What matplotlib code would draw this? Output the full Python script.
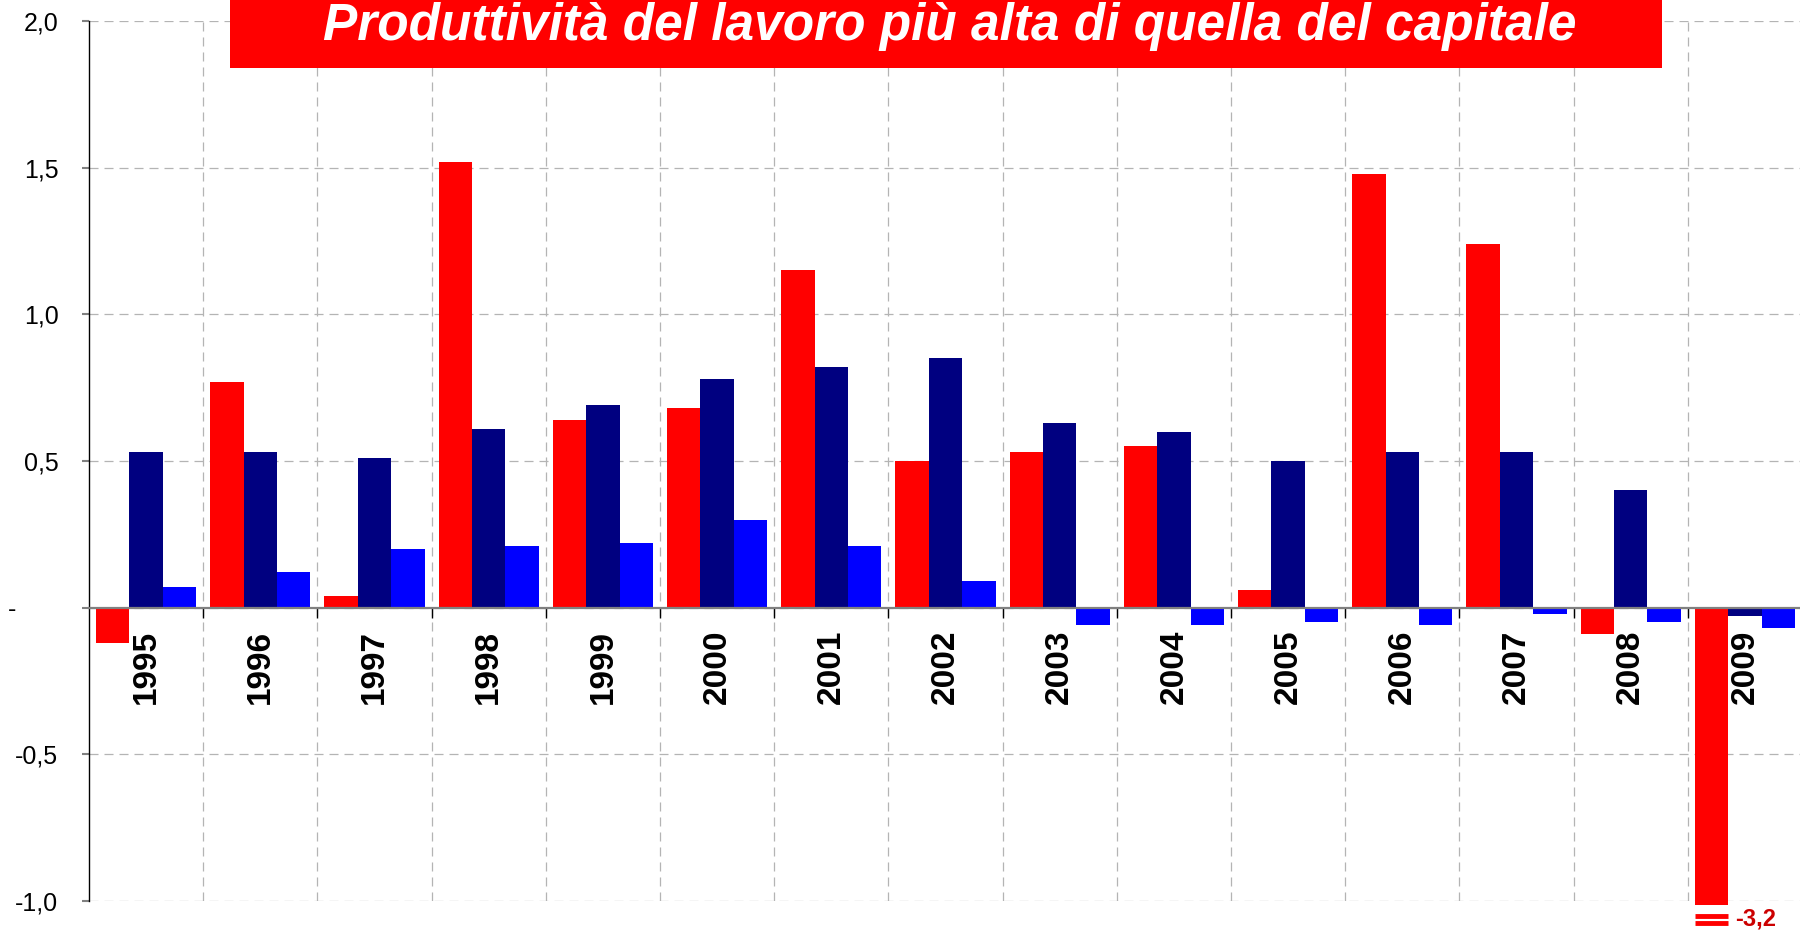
import numpy as np
import matplotlib
matplotlib.use("Agg")
import matplotlib.pyplot as plt
from matplotlib.patches import Rectangle

plt.rcParams['font.family'] = ['Liberation Sans', 'DejaVu Sans']
plt.rcParams['lines.scale_dashes'] = False

# dati
anni = ['1995', '1996', '1997', '1998', '1999', '2000', '2001', '2002',
        '2003', '2004', '2005', '2006', '2007', '2008', '2009']
rosso = [-0.12, 0.77, 0.04, 1.52, 0.64, 0.68, 1.15, 0.50,
         0.53, 0.55, 0.06, 1.48, 1.24, -0.09, -3.2]
blu_scuro = [0.53, 0.53, 0.51, 0.61, 0.69, 0.78, 0.82, 0.85,
             0.63, 0.60, 0.50, 0.53, 0.53, 0.40, -0.03]
blu = [0.07, 0.12, 0.20, 0.21, 0.22, 0.30, 0.21, 0.09,
       -0.06, -0.06, -0.05, -0.06, -0.02, -0.05, -0.07]
y_ticks = [-1.0, -0.5, 0.0, 0.5, 1.0, 1.5, 2.0]
y_labels = ['-1,0', '-0,5', '-      ', '0,5', '1,0', '1,5', '2,0']
titolo = 'Produttività del lavoro più alta di quella del capitale'

ymin, ymax = -1.0, 2.0

fig = plt.figure(figsize=(18, 9.3), dpi=100)
ax = fig.add_axes([89/1800, 1-901/930, (1802-89)/1800, (901-21)/930])

x = np.arange(len(anni))
w = 0.292
# barre tagliate appena sotto il minimo dell'asse
rosso_vis = [max(v, ymin - 0.015) for v in rosso]
b_rosso = ax.bar(x - w, rosso_vis, w, color='#FF0000', zorder=3, clip_on=False)
ax.bar(x, blu_scuro, w, color='#000080', zorder=3)
ax.bar(x + w, blu, w, color='#0000FF', zorder=3)

# segni di interruzione per i valori fuori scala
for b, v in zip(b_rosso, rosso):
    if v < ymin:
        x0 = b.get_x()
        x1 = x0 + b.get_width()
        for yy in [ymin - 0.050, ymin - 0.076]:
            ax.plot([x0, x1], [yy, yy], color='#FF0000', lw=3.5,
                    solid_capstyle='butt', clip_on=False, zorder=3)
        ax.text(x1 + 0.06, ymin - 0.062, f'{v:.1f}'.replace('.', ','),
                color='#CC0000', fontsize=17, fontweight='bold',
                ha='left', va='center', clip_on=False)

ax.set_xlim(-0.5, len(anni) - 0.5)
ax.set_ylim(ymin, ymax)

# assi
ax.spines['top'].set_visible(False)
ax.spines['right'].set_visible(False)
ax.spines['bottom'].set_position(('data', 0))
ax.spines['bottom'].set_color('#808080')
ax.spines['bottom'].set_linewidth(1.6)
ax.spines['bottom'].set_zorder(4)
ax.spines['left'].set_color('black')
ax.spines['left'].set_linewidth(1.0)

ax.set_xticks(x[:-1] + 0.5)
ax.set_xticklabels([])
ax.set_xticks(x, minor=True)
ax.set_xticklabels(anni, minor=True, rotation=90, fontsize=24,
                   fontweight='bold', va='top')
ax.tick_params(axis='x', which='major', length=7, width=1, color='black',
               direction='out')
ax.tick_params(axis='x', which='minor', length=0, pad=16)

ax.set_yticks(y_ticks)
ax.set_yticklabels(y_labels, fontsize=18)
ax.tick_params(axis='y', length=5, width=1.5, color='#808080', pad=17)

ax.set_axisbelow(True)
ax.grid(True, which='major', color='#B4B4B4', lw=0.9, linestyle=(0, (6.5, 4.3)))

# titolo nel riquadro rosso
fig.add_artist(Rectangle((230/1800, 1-68/930), 1432/1800, 68/930,
                         transform=fig.transFigure, facecolor='#FF0000',
                         edgecolor='none', zorder=5))
fig.text(950/1800, 1-40/930, titolo, color='white', fontsize=37,
         fontweight='bold', fontstyle='italic', ha='center', va='baseline',
         zorder=6)

fig.savefig('out.png', dpi=100)
